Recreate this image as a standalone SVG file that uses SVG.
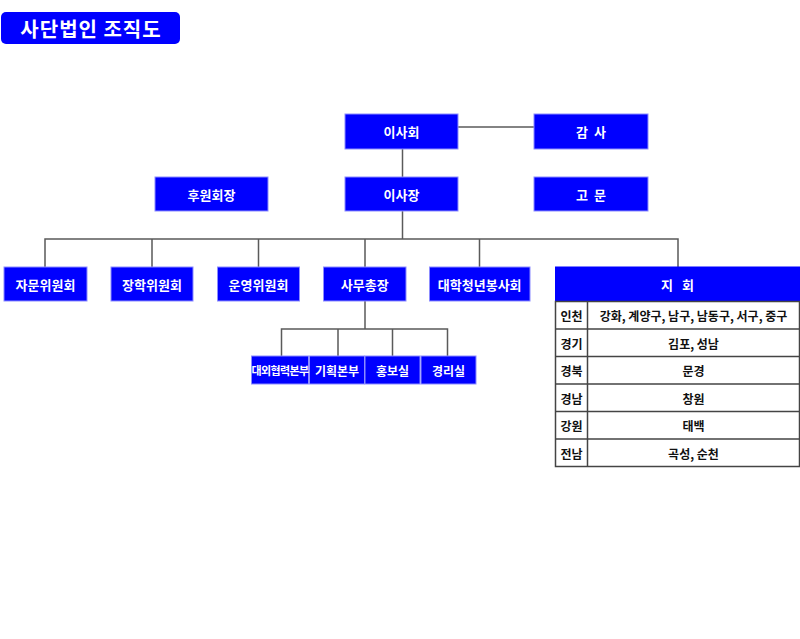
<svg xmlns="http://www.w3.org/2000/svg" width="800" height="639" viewBox="0 0 800 639">
<style>
.b{fill:#0000ff;stroke:#8c8cff;stroke-width:1}
.t{fill:#fff;font-family:"Noto Sans CJK KR","Noto Sans",sans-serif;font-size:13px;font-weight:bold;text-anchor:middle;dominant-baseline:central}
.ts{fill:#fff;font-family:"Noto Sans CJK KR","Noto Sans",sans-serif;font-size:12px;font-weight:bold;text-anchor:middle;dominant-baseline:central}
.c{fill:none;stroke:#5a5a5a;stroke-width:1.5}
.cell{fill:#fff;stroke:#444;stroke-width:1.5}
.k{fill:#111;font-family:"Noto Sans CJK KR","Noto Sans",sans-serif;font-size:12px;font-weight:bold;text-anchor:middle;dominant-baseline:central}
</style>
<rect width="800" height="639" fill="#fff"/>
<g id="title">
<rect x="1" y="12" width="179" height="32" rx="5" fill="#0000ff"/>
<text x="91" y="28.5" style="fill:#fff;font-family:'Noto Sans CJK KR','Noto Sans',sans-serif;font-size:20px;font-weight:bold;letter-spacing:1px;text-anchor:middle;dominant-baseline:central">사단법인 조직도</text>
</g>
<g id="connectors">
<path class="c" d="M458 127H534"/>
<path class="c" d="M402.5 149V177"/>
<path class="c" d="M402.5 211V239"/>
<path class="c" d="M45 267V239H678V267"/>
<path class="c" d="M152 239V267M258.5 239V267M365 239V267M479.5 239V267"/>
<path class="c" d="M365 301V329"/>
<path class="c" d="M281.5 356V329H447.5V356M338 329V356M392.5 329V356"/>
</g>
<g id="n-isahoe"><rect class="b" x="345" y="114" width="113" height="35"/><text class="t" x="401.5" y="131.5">이사회</text></g>
<g id="n-gamsa"><rect class="b" x="534" y="114" width="114" height="35"/><text class="t" x="591" y="131.5" xml:space="preserve">감  사</text></g>
<g id="n-isajang"><rect class="b" x="345" y="177" width="113" height="34"/><text class="t" x="401.5" y="194">이사장</text></g>
<g id="n-gomun"><rect class="b" x="534" y="177" width="114" height="34"/><text class="t" x="591" y="194" xml:space="preserve">고  문</text></g>
<g id="n-huwon"><rect class="b" x="155" y="177" width="113" height="34"/><text class="t" x="211.5" y="194">후원회장</text></g>
<g id="n-jamun"><rect class="b" x="4" y="267" width="83" height="34"/><text class="t" x="45.5" y="284">자문위원회</text></g>
<g id="n-janghak"><rect class="b" x="111" y="267" width="82" height="34"/><text class="t" x="152" y="284">장학위원회</text></g>
<g id="n-unyeong"><rect class="b" x="217.5" y="267" width="82" height="34"/><text class="t" x="258.5" y="284">운영위원회</text></g>
<g id="n-samu"><rect class="b" x="323.5" y="267" width="82.5" height="34"/><text class="t" x="364.7" y="284">사무총장</text></g>
<g id="n-daehak"><rect class="b" x="429.5" y="267" width="100.5" height="34"/><text class="t" x="479.7" y="284">대학청년봉사회</text></g>
<g id="n-daeoe"><rect class="b" x="251.5" y="356" width="57" height="28"/><text class="ts" x="280" y="370" style="font-size:11px;letter-spacing:-0.6px">대외협력본부</text></g>
<g id="n-gihoek"><rect class="b" x="309.5" y="356" width="55" height="28"/><text class="ts" x="337" y="370">기획본부</text></g>
<g id="n-hongbo"><rect class="b" x="365" y="356" width="55" height="28"/><text class="ts" x="392.5" y="370">홍보실</text></g>
<g id="n-gyeongri"><rect class="b" x="421" y="356" width="55" height="28"/><text class="ts" x="448.5" y="370">경리실</text></g>
<g id="n-jihoe">
<rect class="b" x="555.5" y="267" width="244" height="34.5" style="stroke:#0000ff"/>
<text class="t" x="677.5" y="284" xml:space="preserve">지   회</text>
<rect class="cell" x="555.5" y="301.5" width="244" height="165"/>
<path fill="none" stroke="#444" stroke-width="1.5" d="M587.5 301.5V466.5M555.5 329H799.5M555.5 356.5H799.5M555.5 384H799.5M555.5 411.5H799.5M555.5 439H799.5"/>
<text class="k" x="571.5" y="315.5">인천</text><text class="k" x="693.5" y="315.5">강화, 계양구, 남구, 남동구, 서구, 중구</text>
<text class="k" x="571.5" y="343">경기</text><text class="k" x="693.5" y="343">김포, 성남</text>
<text class="k" x="571.5" y="370.5">경북</text><text class="k" x="693.5" y="370.5">문경</text>
<text class="k" x="571.5" y="398">경남</text><text class="k" x="693.5" y="398">창원</text>
<text class="k" x="571.5" y="425.5">강원</text><text class="k" x="693.5" y="425.5">태백</text>
<text class="k" x="571.5" y="453">전남</text><text class="k" x="693.5" y="453">곡성, 순천</text>
</g>
</svg>
